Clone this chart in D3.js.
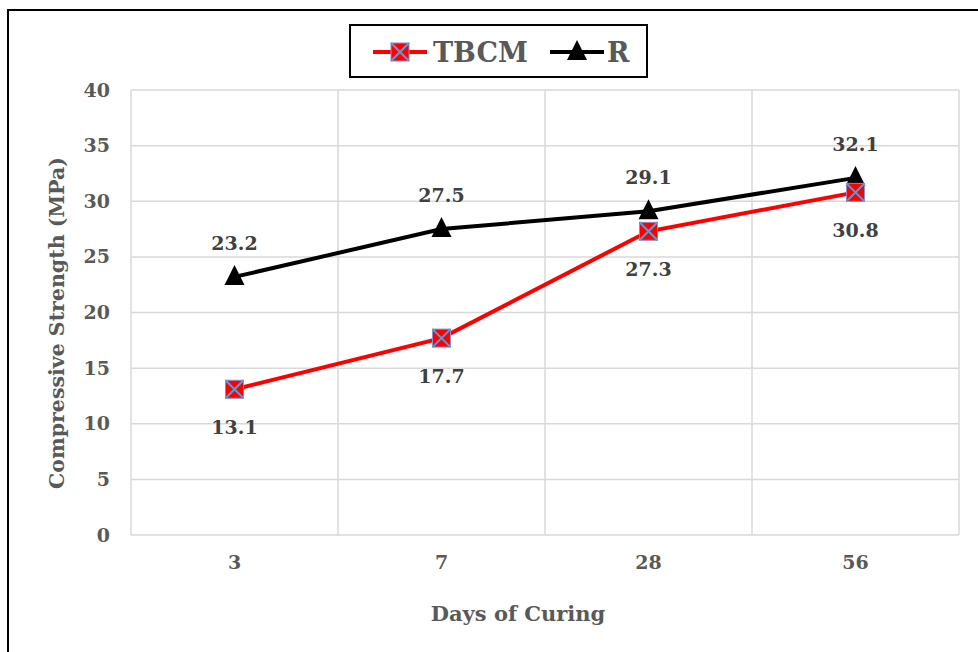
<!DOCTYPE html>
<html>
<head>
<meta charset="utf-8">
<script src="https://cdn.jsdelivr.net/npm/d3@7"></script>
<style>
  html, body { margin: 0; padding: 0; background: #fff; }
  svg text { font-family: "DejaVu Serif", serif; font-weight: bold; }
</style>
</head>
<body>
<svg id="chart" width="978" height="652"></svg>
<script>
// Curing ages (days) and compressive strengths (MPa)
const days = ["3", "7", "28", "56"];
const tbcm = [13.1, 17.7, 27.3, 30.8];
const ref = [23.2, 27.5, 29.1, 32.1];
const yTicks = [0, 5, 10, 15, 20, 25, 30, 35, 40];
const seriesNames = ["TBCM", "R"];

const FONT = '"DejaVu Serif", serif';

const svg = d3.select("#chart");
const plot = { left: 131, right: 959, top: 90, bottom: 535 };

const x = d3.scaleBand().domain(days).range([plot.left, plot.right]).padding(0);
const y = d3.scaleLinear().domain([0, 40]).range([plot.bottom, plot.top]);
const cx = d => x(d) + x.bandwidth() / 2;

// outer frame
svg.append("path")
  .attr("d", "M8,652 V10 H978")
  .attr("fill", "none").attr("stroke", "#000").attr("stroke-width", 2);

// horizontal gridlines
svg.append("g").selectAll("line").data(yTicks).join("line")
  .attr("x1", plot.left).attr("x2", plot.right)
  .attr("y1", d => y(d)).attr("y2", d => y(d))
  .attr("stroke", "#d9d9d9").attr("stroke-width", 1.5);

// vertical gridlines at category boundaries
const bounds = days.map(d => x(d)).concat([x(days[days.length - 1]) + x.bandwidth()]);
svg.append("g").selectAll("line").data(bounds).join("line")
  .attr("x1", d => d).attr("x2", d => d)
  .attr("y1", plot.top).attr("y2", plot.bottom)
  .attr("stroke", "#d9d9d9").attr("stroke-width", 1.5);

// y axis tick labels
const yAxis = d3.axisLeft(y).tickValues(yTicks).tickSize(0).tickPadding(21);
const gy = svg.append("g").attr("transform", `translate(${plot.left},0)`).call(yAxis)
  .attr("font-family", FONT);
gy.select(".domain").remove();
gy.selectAll("text").attr("fill", "#595959").style("font-size", "19px");

// x axis tick labels
const xAxis = d3.axisBottom(x).tickSize(0).tickPadding(21);
const gx = svg.append("g").attr("transform", `translate(0,${plot.bottom})`).call(xAxis)
  .attr("font-family", FONT);
gx.select(".domain").remove();
gx.selectAll("text").attr("fill", "#595959").style("font-size", "19px");

// axis titles
svg.append("text")
  .attr("x", 518).attr("y", 621)
  .attr("text-anchor", "middle").attr("fill", "#595959").style("font-size", "21px")
  .text("Days of Curing");
svg.append("text")
  .attr("transform", "translate(64,323) rotate(-90)")
  .attr("text-anchor", "middle").attr("fill", "#595959").style("font-size", "20.5px")
  .text("Compressive Strength (MPa)");

// series lines
const line = d3.line().x((d, i) => cx(days[i])).y(d => y(d));
svg.append("path").datum(tbcm).attr("d", line)
  .attr("fill", "none").attr("stroke", "#ff0000").attr("stroke-width", 4);
svg.append("path").datum(ref).attr("d", line)
  .attr("fill", "none").attr("stroke", "#000").attr("stroke-width", 4);

// marker helpers
function squareX(g, px, py, s) {
  g.append("rect").attr("x", px - s / 2).attr("y", py - s / 2).attr("width", s).attr("height", s)
    .attr("fill", "#ff0000").attr("stroke", "#8e8ed0").attr("stroke-width", 1);
  g.append("path")
    .attr("d", `M${px - s / 2},${py - s / 2}L${px + s / 2},${py + s / 2}M${px + s / 2},${py - s / 2}L${px - s / 2},${py + s / 2}`)
    .attr("stroke", "#5b9bd5").attr("stroke-width", 2);
}
function triangle(g, px, py, s) {
  g.append("path")
    .attr("d", `M${px},${py - s * 0.6}L${px + s / 2},${py + s * 0.4}L${px - s / 2},${py + s * 0.4}Z`)
    .attr("fill", "#000");
}

const mk = svg.append("g");
ref.forEach((v, i) => triangle(mk, cx(days[i]), y(v), 20));
tbcm.forEach((v, i) => squareX(mk, cx(days[i]), y(v), 18));

// data labels
svg.append("g").selectAll("text").data(ref).join("text")
  .attr("x", (d, i) => cx(days[i])).attr("y", d => y(d) - 34)
  .attr("dy", "0.35em").attr("text-anchor", "middle")
  .attr("fill", "#404040").style("font-size", "19px")
  .text(d => d.toFixed(1));
svg.append("g").selectAll("text").data(tbcm).join("text")
  .attr("x", (d, i) => cx(days[i])).attr("y", d => y(d) + 38)
  .attr("dy", "0.35em").attr("text-anchor", "middle")
  .attr("fill", "#404040").style("font-size", "19px")
  .text(d => d.toFixed(1));

// legend
const lg = svg.append("g");
lg.append("rect").attr("x", 350).attr("y", 25).attr("width", 297).attr("height", 52)
  .attr("fill", "#fff").attr("stroke", "#000").attr("stroke-width", 2);
lg.append("line").attr("x1", 373).attr("x2", 427).attr("y1", 52).attr("y2", 52)
  .attr("stroke", "#ff0000").attr("stroke-width", 4);
squareX(lg, 400, 52, 18);
lg.append("text").attr("x", 433).attr("y", 62).attr("fill", "#595959")
  .style("font-size", "27px").text(seriesNames[0]);
lg.append("line").attr("x1", 550).attr("x2", 604).attr("y1", 52).attr("y2", 52)
  .attr("stroke", "#000").attr("stroke-width", 4);
triangle(lg, 577, 52, 20);
lg.append("text").attr("x", 607).attr("y", 62).attr("fill", "#595959")
  .style("font-size", "27px").text(seriesNames[1]);
</script>
</body>
</html>
